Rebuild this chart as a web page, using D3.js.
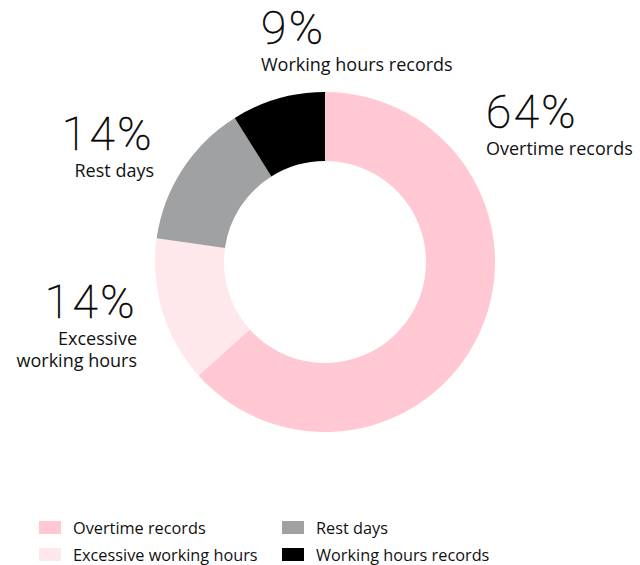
<!DOCTYPE html>
<html>
<head>
<meta charset="utf-8">
<script src="https://cdn.jsdelivr.net/npm/d3@7"></script>
<style>
  html, body { margin: 0; padding: 0; background: #fff; }
  svg { display: block; }
</style>
</head>
<body>
<svg id="chart" width="640" height="565"></svg>
<script>
const categories = ["Overtime records", "Excessive working hours", "Rest days", "Working hours records"];
const values = [64, 14, 14, 9];
const colors = ["#ffc8d3", "#ffe8ec", "#a0a1a3", "#000000"];
const labelLines = [["Overtime records"], ["Excessive", "working hours"], ["Rest days"], ["Working hours records"]];

const svg = d3.select("#chart");
const cx = 325, cy = 262, outerR = 170, innerR = 101;

const pie = d3.pie().sort(null).value(d => d)(values);
const arc = d3.arc().innerRadius(innerR).outerRadius(outerR);

const g = svg.append("g").attr("transform", `translate(${cx},${cy})`);
g.selectAll("path").data(pie).join("path")
  .attr("d", arc)
  .attr("fill", (d, i) => colors[i]);

const labelPos = [
  {x: 486, y: 128, anchor: "start"},
  {x: 137, y: 318, anchor: "end"},
  {x: 154, y: 150, anchor: "end"},
  {x: 261, y: 44, anchor: "start"}
];
const pctFont = "Roboto, 'Open Sans', sans-serif";
const lblFont = "'Open Sans', 'Lato', sans-serif";

pie.forEach((d, i) => {
  const p = labelPos[i];
  const t = svg.append("g");
  t.append("text")
    .attr("x", p.x).attr("y", p.y)
    .attr("text-anchor", p.anchor)
    .attr("font-family", pctFont)
    .attr("font-weight", 100)
    .attr("font-size", 46)
    .attr("letter-spacing", 2.5)
    .attr("fill", "#000")
    .attr("stroke", "#000")
    .attr("stroke-width", 0.6)
    .text(values[i] + "%");
  labelLines[i].forEach((line, j) => {
    t.append("text")
      .attr("x", p.x).attr("y", p.y + 27 + j * 22)
      .attr("text-anchor", p.anchor)
      .attr("font-family", lblFont)
      .attr("font-size", 18)
      .attr("fill", "#111")
      .text(line);
  });
});

// legend
const legend = svg.append("g");
categories.forEach((name, k) => {
  const col = Math.floor(k / 2), row = k % 2;
  const x = 39 + col * 243, y = 521 + row * 27;
  legend.append("rect").attr("x", x).attr("y", y).attr("width", 22).attr("height", 13).attr("fill", colors[k]);
  legend.append("text").attr("x", x + 34).attr("y", y + 12.5)
    .attr("font-family", lblFont).attr("font-size", 16.3).attr("fill", "#111")
    .text(name);
});
</script>
</body>
</html>
